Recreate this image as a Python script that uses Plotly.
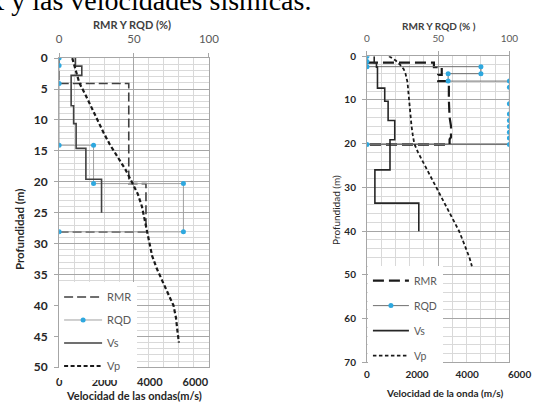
import plotly.graph_objects as go

W, H = 536, 407

# ---------------- data: left profile ----------------
rmr_l_pct = [0, 0, 46.5, 46.5, 58, 58, 0]
rmr_l_depth = [0, 4.1, 4.1, 20.3, 20.3, 28.1, 28.1]

rqd_l_pct = [0, 0, 0, 0, 23, 23, 83, 83, 0]
rqd_l_depth = [0, 1.2, 4.1, 14.1, 14.1, 20.3, 20.3, 28.1, 28.1]

vs_l_vel = [720, 720, 1000, 1000, 530, 530, 640, 640, 750, 750, 1180, 1180, 1870, 1870]
vs_l_depth = [0, 1.3, 1.3, 2.8, 2.8, 7.7, 7.7, 10.6, 10.6, 14.6, 14.6, 19.6, 19.6, 25]

vp_l_vel = [580, 740, 890, 1170, 1420, 1690, 1950, 2240, 2580, 2920, 3200, 3470,
            3650, 3760, 3850, 3960, 4100, 4300, 4530, 4790, 5040, 5150, 5210, 5280]
vp_l_depth = [0, 2, 4, 6, 8, 10, 12, 14, 16, 18, 20, 22,
              24, 26, 28, 30, 32, 34, 36, 38, 40, 42, 44, 46]

# ---------------- data: right profile ----------------
rmr_r_pct = [0, 47, 47, 52.5, 52.5, 50, 50, 57.5, 57.5, 58, 59, 59, 58, 58, 0]
rmr_r_depth = [1.5, 1.5, 2.5, 2.5, 4.3, 4.3, 5.7, 5.7, 10, 14, 16, 18.5, 19, 20.2, 20.2]

rqd_r_pct = [0, 0, 0, 80, 80, 57, 57, 100, 100, 100, 100, 100, 100, 100, 100, 100, 0]
rqd_r_depth = [0, 1.2, 2.4, 2.4, 4.0, 4.0, 5.7, 5.7, 7.1, 10.9, 13.2, 14.7, 16.1,
               17.4, 18.7, 20.2, 20.2]

vs_r_vel = [290, 290, 380, 380, 420, 420, 710, 710, 845, 845, 1110, 1110, 920, 920,
            317, 317, 2070, 2070]
vs_r_depth = [0, 1.5, 1.5, 2.5, 2.5, 7.3, 7.3, 10.3, 10.3, 14.7, 14.7, 19.1, 19.1, 26,
              26, 33.6, 33.6, 40]

vp_r_vel = [880, 1150, 1330, 1470, 1540, 1620, 1650, 1680, 1700, 1740, 1780, 1830, 1890,
            2040, 2220, 2400, 2590, 2770, 2960, 3150, 3330, 3500, 3680, 3820, 3960, 4090, 4190]
vp_r_depth = [0, 1, 2, 3, 4, 6, 8, 10, 12, 14, 16, 18, 20,
              22, 24, 26, 28, 30, 32, 34, 36, 38, 40, 42, 44, 46, 48]

pct_ticks = [0, 50, 100]
vel_ticks = [0, 2000, 4000, 6000]

# ---------------- styles ----------------
FONT = "Lato"
DARK = "#404040"
GRAYTXT = "#595959"
BLUE = "#2ea8df"
MAJ = "#a6a6a6"
MIN = "#d9d9d9"

def px(x):
    return x / W

def py(y):
    return 1 - y / H

L_X = [px(57.5), px(211)]
L_Y = [py(373), py(52)]
R_X = [px(373), px(519)]
R_Y = [py(368), py(50)]

fig = go.Figure()

# left traces
fig.add_trace(go.Scatter(x=rmr_l_pct, y=rmr_l_depth, name="RMR", xaxis="x", yaxis="y",
                         mode="lines", line=dict(color=DARK, width=1.6, dash="9px,4px"),
                         legend="legend", legendgroup="a"))
fig.add_trace(go.Scatter(x=rqd_l_pct, y=rqd_l_depth, name="RQD", xaxis="x", yaxis="y",
                         mode="lines+markers", line=dict(color="#a0a0a0", width=1),
                         marker=dict(color=BLUE, size=5), legend="legend", legendgroup="b"))
fig.add_trace(go.Scatter(x=vs_l_vel, y=vs_l_depth, name="Vs", xaxis="x2", yaxis="y",
                         mode="lines", line=dict(color=DARK, width=1.6),
                         legend="legend", legendgroup="c"))
fig.add_trace(go.Scatter(x=vp_l_vel, y=vp_l_depth, name="Vp", xaxis="x2", yaxis="y",
                         mode="lines", line=dict(color="#1a1a1a", width=2.2, dash="4px,2.5px"),
                         legend="legend", legendgroup="d"))

# right traces
fig.add_trace(go.Scatter(x=rmr_r_pct, y=rmr_r_depth, name="RMR", xaxis="x3", yaxis="y2",
                         mode="lines", line=dict(color="#1a1a1a", width=2.2, dash="11px,5px"),
                         legend="legend2", legendgroup="e"))
fig.add_trace(go.Scatter(x=rqd_r_pct, y=rqd_r_depth, name="RQD", xaxis="x3", yaxis="y2",
                         mode="lines+markers", line=dict(color="#707070", width=1),
                         marker=dict(color=BLUE, size=5), legend="legend2", legendgroup="f"))
fig.add_trace(go.Scatter(x=vs_r_vel, y=vs_r_depth, name="Vs", xaxis="x4", yaxis="y2",
                         mode="lines", line=dict(color="#262626", width=1.6),
                         legend="legend2", legendgroup="g"))
fig.add_trace(go.Scatter(x=vp_r_vel, y=vp_r_depth, name="Vp", xaxis="x4", yaxis="y2",
                         mode="lines", line=dict(color="#1a1a1a", width=1.8, dash="3.5px,2.5px"),
                         legend="legend2", legendgroup="h"))

top_axis = dict(range=[0, 100], side="top", tickvals=pct_ticks, showgrid=True,
                gridcolor=MAJ, gridwidth=1, zeroline=False, showline=True, mirror=True,
                linecolor=MAJ, linewidth=1, ticks="outside", ticklen=4, tickcolor=MAJ,
                minor=dict(dtick=10, showgrid=True, gridcolor=MIN, ticks=""),
                fixedrange=True)

fig.update_layout(
    width=W, height=H, margin=dict(l=0, r=0, t=0, b=0),
    paper_bgcolor="white", plot_bgcolor="white",
    font=dict(family=FONT, color=DARK),
    xaxis=dict(top_axis, domain=L_X, anchor="y",
               tickfont=dict(size=11.5, color=GRAYTXT), ticklabelstandoff=5),
    xaxis2=dict(range=[0, 6600], overlaying="x", side="bottom", anchor="y",
                tickvals=vel_ticks, showgrid=False, zeroline=False, showline=False,
                ticks="", tickfont=dict(size=11, color="#262626", weight="bold"),
                ticklabelstandoff=7),
    yaxis=dict(range=[50, 0], domain=L_Y, anchor="x", dtick=5, showgrid=True,
               gridcolor=MAJ, zeroline=False, showline=True, mirror=True,
               linecolor=MAJ, ticks="outside", ticklen=4, tickcolor=MAJ,
               minor=dict(dtick=1, showgrid=True, gridcolor=MIN, ticks=""),
               tickfont=dict(size=12, color="#262626", weight="bold"),
               ticklabelstandoff=4),
    xaxis3=dict(top_axis, domain=R_X, anchor="y2",
                tickfont=dict(size=10, color=GRAYTXT), ticklabelstandoff=5),
    xaxis4=dict(range=[0, 6000 * 146 / 154], overlaying="x3", side="bottom", anchor="y2",
                tickvals=vel_ticks, showgrid=False, zeroline=False, showline=False,
                ticks="", tickfont=dict(size=10, color="#262626", weight="bold"),
                ticklabelstandoff=5),
    yaxis2=dict(range=[70, 0], domain=R_Y, anchor="x3", dtick=10, showgrid=True,
                gridcolor=MAJ, zeroline=False, showline=True, mirror=True,
                linecolor=MAJ, ticks="outside", ticklen=4, tickcolor=MAJ,
                minor=dict(dtick=2, showgrid=True, gridcolor=MIN, ticks=""),
                tickfont=dict(size=10, color="#262626", weight="bold"),
                ticklabelstandoff=4),
    legend=dict(x=px(57.5), y=py(285), xanchor="left", yanchor="top",
                bgcolor="white", borderwidth=0, itemwidth=38,
                font=dict(family=FONT, size=11, color=GRAYTXT),
                tracegroupgap=4, traceorder="grouped"),
    legend2=dict(x=px(374), y=py(268), xanchor="left", yanchor="top",
                 bgcolor="white", borderwidth=0, itemwidth=36,
                 font=dict(family=FONT, size=10.5, color=GRAYTXT),
                 tracegroupgap=6, traceorder="grouped"),
    showlegend=True,
)

ann = [
    dict(text="RMR y las velocidades sísmicas.", x=px(318), y=py(-7.5), xanchor="right",
         yanchor="middle", font=dict(family="Liberation Serif", size=28, color="black")),
    dict(text="<b>RMR Y RQD (%)</b>", x=px(132), y=py(17), xanchor="center", yanchor="middle",
         font=dict(size=11, color="#404040")),
    dict(text="<b>RMR Y RQD (% )</b>", x=px(447), y=py(19), xanchor="center", yanchor="middle",
         font=dict(size=10, color="#404040")),
    dict(text="<b>Velocidad de las ondas(m/s)</b>", x=px(134), y=py(402), xanchor="center",
         yanchor="middle", font=dict(size=11, color="#262626")),
    dict(text="<b>Velocidad de la onda (m/s)</b>", x=px(452), y=py(400), xanchor="center",
         yanchor="middle", font=dict(size=10, color="#262626")),
    dict(text="<b>Profundidad (m)</b>", x=px(17), y=py(230), xanchor="center",
         yanchor="middle", textangle=-90, font=dict(size=11.5, color="#262626")),
    dict(text="Profundidad (m)", x=px(342), y=py(210), xanchor="center",
         yanchor="middle", textangle=-90, font=dict(size=10, color="#262626")),
    dict(text="<b>6000</b>", x=px(516), y=py(380), xanchor="left",
         yanchor="middle", font=dict(size=10, color="#262626")),
]
for a in ann:
    a.setdefault("xref", "paper")
    a.setdefault("yref", "paper")
    a["showarrow"] = False
fig.update_layout(annotations=ann)

fig.write_html("out.html")
